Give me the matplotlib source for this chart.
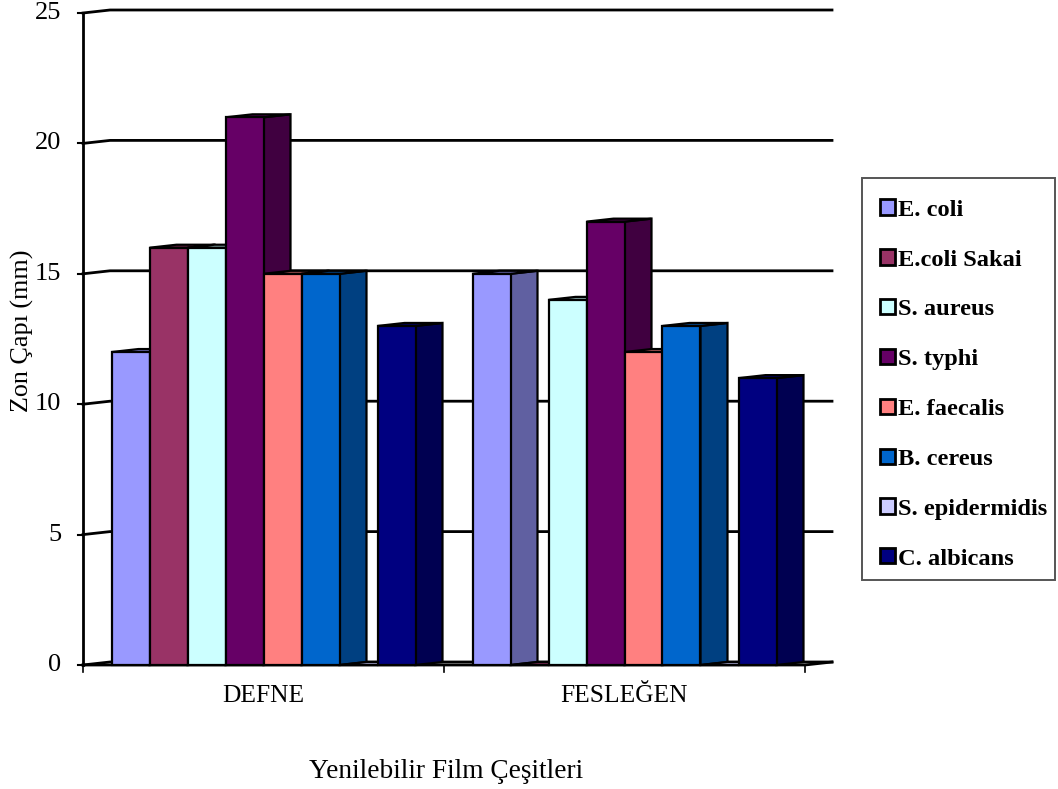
import matplotlib
matplotlib.use("Agg")
import matplotlib.pyplot as plt
from matplotlib.patches import Polygon, Patch, Rectangle
import numpy as np

categories = ["DEFNE", "FESLEĞEN"]
series = ["E. coli", "E.coli Sakai", "S. aureus", "S. typhi", "E. faecalis",
          "B. cereus", "S. epidermidis", "C. albicans"]
defne = [12, 16, 16, 21, 15, 15, 0, 13]
feslegen = [15, 0, 14, 17, 12, 13, 0, 11]
values = [defne, feslegen]
colors = ["#9999FF", "#993366", "#CCFFFF", "#660066", "#FF8080",
          "#0066CC", "#CCCCFF", "#000080"]
yticks = [0, 5, 10, 15, 20, 25]
xlabel = "Yenilebilir Film Çeşitleri"
ylabel = "Zon Çapı (mm)"

plt.rcParams['font.family'] = ['Liberation Serif', 'DejaVu Serif']

W, H = 1058, 789
fig = plt.figure(figsize=(W / 100, H / 100), dpi=100)
# front plot area in pixels
L, R, B, T = 83, 805, 665, 13
ax = fig.add_axes([L / W, 1 - B / H, (R - L) / W, (B - T) / H])
ax.set_xlim(-0.5, 1.5)
ax.set_ylim(0, 25)
ax.axis('off')

px_per_x = (R - L) / 2.0
px_per_y = (B - T) / 25.0
DX = 27 / px_per_x   # depth offset in data units
DY = 3 / px_per_y

def shade(c, f=0.63):
    r, g, b = matplotlib.colors.to_rgb(c)
    return (r * f, g * f, b * f)

# back wall gridlines (with floor/wall connectors)
for v in yticks:
    ax.plot([-0.5, -0.5 + DX, 1.5 + DX], [v, v + DY, v + DY], color='black',
            lw=2.0, clip_on=False, zorder=1, solid_joinstyle='miter')
# floor front edge
ax.plot([-0.5, 1.5, 1.5 + DX], [0, 0, DY], color='black', lw=2.0,
        clip_on=False, zorder=1)
# y axis line
ax.plot([-0.5, -0.5], [0, 25], color='black', lw=2.0, clip_on=False, zorder=50)

nb = len(series)
w = 1.0 / (nb + 1.5)
z = 2
for ci, cat in enumerate(categories):
    for si in range(nb):
        h = values[ci][si]
        x0 = ci - nb * w / 2 + si * w
        x1 = x0 + w
        col = colors[si]
        # side face
        side = Polygon([[x1, 0], [x1, h], [x1 + DX, h + DY], [x1 + DX, DY]],
                       closed=True, facecolor=shade(col), edgecolor='black',
                       lw=1.6, zorder=z, clip_on=False, joinstyle='miter')
        ax.add_patch(side)
        # top face
        top = Polygon([[x0, h], [x1, h], [x1 + DX, h + DY], [x0 + DX, h + DY]],
                      closed=True, facecolor=shade(col, 0.8), edgecolor='black',
                      lw=1.6, zorder=z, clip_on=False, joinstyle='miter')
        ax.add_patch(top)
        # front face
        if h > 0:
            ax.bar(x0, h, width=w, align='edge', color=col, edgecolor='black',
                   lw=1.6, zorder=z + 0.5, clip_on=False)
        z += 1

# y ticks and labels
for v in yticks:
    ax.plot([-0.5 - 5 / px_per_x, -0.5], [v, v], color='black', lw=1.5,
            clip_on=False, zorder=50)
    ax.text(-0.5 - 22 / px_per_x, v, str(v), ha='right', va='center',
            fontsize=19, clip_on=False)

# x ticks
for xt in [-0.5, 0.5, 1.5]:
    ax.plot([xt, xt], [0, -7 / px_per_y], color='black', lw=1.2,
            clip_on=False, zorder=50)
for ci, cat in enumerate(categories):
    ax.text(ci, -31 / px_per_y, cat, ha='center', va='center', fontsize=18.4)

fig.text(446 / W, 1 - 772 / H, xlabel, ha='center', va='center', fontsize=19.7)
fig.text(22 / W, 1 - 331 / H, ylabel, ha='center', va='center', fontsize=18.8,
         rotation=90)

# legend box
fig.patches.append(Rectangle((862 / W, 1 - 580 / H), (1055 - 862) / W,
                             (580 - 178) / H, transform=fig.transFigure,
                             facecolor='white', edgecolor='#555555', lw=1.4,
                             zorder=0))
handles = [Patch(facecolor=c, edgecolor='black', lw=2) for c in colors]
leg = fig.legend(handles, series, loc='center left',
                 bbox_to_anchor=(862 / W, 1 - 384.5 / H),
                 prop={'weight': 'bold', 'size': 17.6},
                 frameon=False,
                 handlelength=0.58, handleheight=0.58, handletextpad=0.16,
                 labelspacing=1.17, borderpad=0.75, borderaxespad=0)

fig.savefig("out.png", dpi=100)
